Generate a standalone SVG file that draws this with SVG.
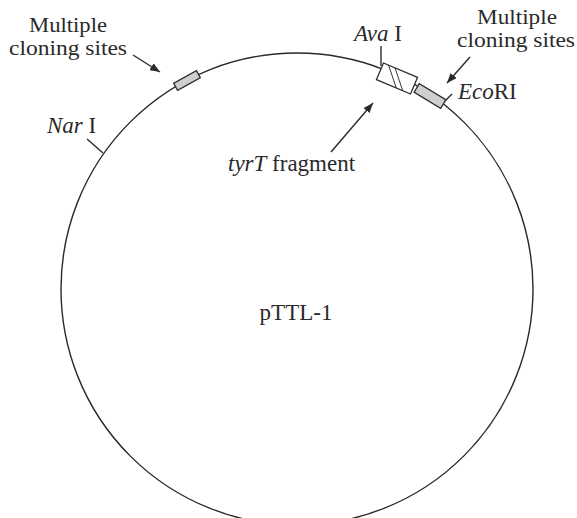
<svg xmlns="http://www.w3.org/2000/svg" width="577" height="518" viewBox="0 0 577 518">
<defs>
<style>
.t{font-family:"Liberation Serif","Times New Roman",serif;font-size:23px;fill:#2a2a2a}
.s{font-size:21.5px}
.i{font-style:italic}
.ln{stroke:#2a2a2a;stroke-width:1.4;fill:none}
.box{stroke:#2a2a2a;stroke-width:1.3}
</style>
<marker id="ah" viewBox="0 0 10 8" refX="10" refY="4" markerWidth="10" markerHeight="8" markerUnits="userSpaceOnUse" orient="auto">
<path d="M0,0 L10,4 L0,8 Z" fill="#2a2a2a"/>
</marker>
</defs>
<rect width="577" height="518" fill="#fff"/>
<g id="plasmid">
<circle cx="297" cy="289" r="236" class="ln"/>
<text class="t" x="296" y="320" text-anchor="middle">pTTL-1</text>
</g>
<g id="mcs-left">
<rect x="-13" y="-4" width="26" height="8" transform="translate(187,80.5) rotate(-29)" class="box" fill="#cfcfcf"/>
<text class="t s" x="68" y="32" text-anchor="middle" textLength="78" lengthAdjust="spacingAndGlyphs">Multiple</text>
<text class="t s" x="68" y="55" text-anchor="middle" textLength="118" lengthAdjust="spacingAndGlyphs">cloning sites</text>
</g>
<g id="nari">
<text class="t" x="47" y="133"><tspan class="i">Nar</tspan> I</text>
</g>
<g id="tyrT">
<g transform="translate(397,78.5) rotate(23)">
<rect x="-18.5" y="-9" width="37" height="18" class="box" fill="#fff"/>
<line x1="-13" y1="-9" x2="3" y2="9" stroke="#2a2a2a" stroke-width="0.9"/>
<line x1="-6" y1="-9" x2="10" y2="9" stroke="#2a2a2a" stroke-width="0.9"/>
</g>
<text class="t" x="228" y="171"><tspan class="i">tyrT</tspan> fragment</text>
</g>
<g id="avai">
<text class="t" x="354" y="41"><tspan class="i">Ava</tspan> I</text>
</g>
<g id="mcs-right">
<rect x="-15.5" y="-5" width="31" height="10" transform="translate(430,96) rotate(31)" class="box" fill="#cfcfcf"/>
<text class="t s" x="517" y="24" text-anchor="middle" textLength="80" lengthAdjust="spacingAndGlyphs">Multiple</text>
<text class="t s" x="516" y="47" text-anchor="middle" textLength="118" lengthAdjust="spacingAndGlyphs">cloning sites</text>
</g>
<g id="ecori">
<text class="t" x="458" y="99"><tspan class="i">Eco</tspan>RI</text>
</g>
<g id="connectors">
<line x1="133" y1="55" x2="160" y2="72" class="ln" marker-end="url(#ah)"/>
<line x1="470" y1="57" x2="447" y2="83" class="ln" marker-end="url(#ah)"/>
<line x1="331" y1="152" x2="373" y2="103" class="ln" marker-end="url(#ah)"/>
<line x1="87" y1="139" x2="103" y2="153" class="ln"/>
<line x1="381" y1="46" x2="381" y2="66" class="ln"/>
<line x1="445" y1="101" x2="452" y2="94" class="ln"/>
</g>
</svg>
